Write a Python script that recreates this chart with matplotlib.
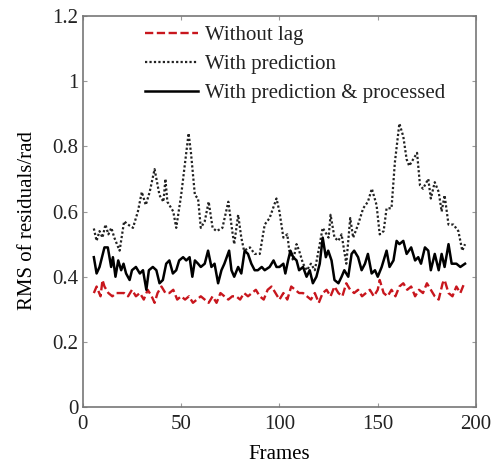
import matplotlib
matplotlib.use("Agg")
import matplotlib.pyplot as plt

# frame positions and values
pred_x = [5.6, 7, 8.5, 10, 11.5, 13, 14.5, 16, 18.7, 21, 23, 25.5, 28, 30, 32, 34, 36.5, 39, 41,
          42, 43, 46, 47.5, 50, 52.6, 53.8, 55, 57, 58.6, 60, 62, 64, 66, 68, 71, 74, 76, 77, 79,
          80.6, 82, 85, 87.4, 90, 92.5, 95, 98.5, 100, 102, 104, 105, 107, 108.7, 110, 112, 114,
          116, 118, 120.5, 122, 125, 126, 128, 130, 131.6, 134, 136, 137.5, 140, 142.6, 145, 147,
          149.4, 151, 153, 154.5, 157, 158.7, 161, 163, 164.7, 166, 168, 170, 171.5, 173, 175.7,
          177, 179, 181, 182.5, 184, 186, 188.5, 191, 193, 194.4]
pred_y = [0.548, 0.51, 0.54, 0.52, 0.56, 0.53, 0.55, 0.52, 0.48, 0.57, 0.56, 0.55, 0.60, 0.66,
          0.62, 0.66, 0.73, 0.65, 0.63, 0.70, 0.63, 0.60, 0.55, 0.65, 0.78, 0.84, 0.78, 0.65, 0.64,
          0.55, 0.57, 0.63, 0.55, 0.54, 0.55, 0.63, 0.54, 0.50, 0.59, 0.52, 0.48, 0.49, 0.47, 0.47,
          0.56, 0.58, 0.64, 0.60, 0.52, 0.53, 0.48, 0.45, 0.50, 0.48, 0.44, 0.42, 0.44, 0.42, 0.50,
          0.55, 0.52, 0.59, 0.52, 0.51, 0.53, 0.44, 0.58, 0.52, 0.56, 0.61, 0.63, 0.67, 0.62, 0.53,
          0.54, 0.61, 0.61, 0.75, 0.87, 0.83, 0.76, 0.74, 0.76, 0.78, 0.68, 0.67, 0.70, 0.64, 0.69,
          0.66, 0.60, 0.65, 0.56, 0.56, 0.54, 0.48, 0.50]

proc_x = [5.6, 7, 8.5, 11, 12.7, 14.4, 15.3, 16.6, 18, 19.5, 20.7, 22, 23.8, 25, 27, 29, 30.6,
          32.3, 33.6, 35.6, 37.4, 39, 40.7, 42.4, 44, 45.8, 47.5, 49, 51, 52.6, 54.3, 55.7, 57,
          58.6, 60, 62, 63.7, 65.4, 67, 68.8, 70.5, 72, 74.4, 75.6, 77, 79, 80.6, 82.3, 84, 85.7,
          87.4, 89, 91, 92.5, 95, 97, 98.5, 100, 102, 103, 104.4, 105.6, 107, 108.7, 110, 112,
          113.8, 115.4, 117, 118.8, 120.5, 122, 123.6, 124.8, 126.5, 128, 130, 131.6, 133, 135,
          136.7, 138, 140, 141.8, 143.5, 145, 146.9, 148.6, 150, 152, 154.5, 156, 158, 159.6, 161,
          163, 164.7, 167, 169, 170.6, 172, 174, 175.7, 177, 179, 181, 182.5, 184, 186, 187.6,
          190, 192, 194.4]
proc_y = [0.46, 0.41, 0.43, 0.49, 0.49, 0.43, 0.46, 0.40, 0.45, 0.42, 0.44, 0.41, 0.39, 0.42,
          0.43, 0.41, 0.42, 0.36, 0.42, 0.43, 0.42, 0.38, 0.39, 0.44, 0.45, 0.41, 0.42, 0.45, 0.46,
          0.45, 0.46, 0.40, 0.45, 0.44, 0.43, 0.44, 0.48, 0.43, 0.44, 0.38, 0.42, 0.44, 0.48, 0.42,
          0.40, 0.43, 0.41, 0.48, 0.47, 0.44, 0.42, 0.42, 0.43, 0.42, 0.43, 0.45, 0.43, 0.43, 0.44,
          0.41, 0.45, 0.48, 0.46, 0.45, 0.42, 0.43, 0.40, 0.42, 0.38, 0.40, 0.44, 0.52, 0.46, 0.48,
          0.45, 0.39, 0.38, 0.40, 0.42, 0.40, 0.47, 0.48, 0.46, 0.42, 0.44, 0.47, 0.41, 0.42, 0.40,
          0.43, 0.48, 0.43, 0.45, 0.51, 0.50, 0.51, 0.47, 0.49, 0.45, 0.46, 0.44, 0.49, 0.48, 0.42,
          0.47, 0.42, 0.47, 0.43, 0.50, 0.44, 0.44, 0.43, 0.44]

nolag_x = [5.6, 7, 9, 10, 11, 13, 15, 17, 19, 21, 23, 25, 27, 29, 31, 33, 35, 36.5, 38, 40, 42,
           44, 46, 48, 50, 52, 54, 56, 58, 60, 62, 64, 66, 68, 70, 72, 74, 76, 78, 80, 82, 84, 86,
           88, 90, 92, 94, 96, 98, 100, 102, 104, 106, 108, 110, 112, 114, 116, 118, 120, 122,
           124, 126, 128, 130, 132, 134, 136, 138, 140, 142, 144, 146, 148, 150, 151, 153, 155,
           157, 159, 161, 163, 165, 167, 169, 171, 173, 175, 177, 179, 181, 183, 184, 186, 188,
           190, 192, 194]
nolag_y = [0.35, 0.37, 0.34, 0.39, 0.37, 0.35, 0.34, 0.35, 0.35, 0.35, 0.34, 0.36, 0.34, 0.35,
           0.33, 0.36, 0.34, 0.32, 0.35, 0.37, 0.35, 0.35, 0.36, 0.33, 0.34, 0.33, 0.34, 0.32, 0.33,
           0.34, 0.33, 0.32, 0.34, 0.32, 0.35, 0.34, 0.33, 0.34, 0.34, 0.33, 0.35, 0.34, 0.35, 0.36,
           0.34, 0.33, 0.36, 0.37, 0.35, 0.33, 0.35, 0.33, 0.37, 0.36, 0.35, 0.35, 0.34, 0.33, 0.35,
           0.32, 0.35, 0.36, 0.34, 0.37, 0.35, 0.34, 0.38, 0.36, 0.35, 0.36, 0.34, 0.35, 0.36, 0.34,
           0.36, 0.39, 0.35, 0.34, 0.36, 0.34, 0.37, 0.38, 0.36, 0.37, 0.34, 0.36, 0.35, 0.38, 0.36,
           0.34, 0.33, 0.38, 0.39, 0.35, 0.34, 0.37, 0.35, 0.38]

x_ticks = [0, 50, 100, 150, 200]
y_ticks = [0, 0.2, 0.4, 0.6, 0.8, 1.0, 1.2]

plt.rcParams["font.family"] = ["Liberation Serif", "DejaVu Serif"]
plt.rcParams["text.color"] = "#222222"
plt.rcParams["xtick.labelcolor"] = "#222222"
plt.rcParams["ytick.labelcolor"] = "#222222"

fig = plt.figure(figsize=(4.99, 4.68), dpi=100)
ax = fig.add_axes([0.166, 0.130, 0.788, 0.836])

ax.plot(nolag_x, nolag_y, color="#c8161d", lw=1.7, ls=(0, (3.5, 1.5)), label="Without lag")
ax.plot(pred_x, pred_y, color="#222222", lw=1.6, ls=(0, (1, 1)), label="With prediction")
ax.plot(proc_x, proc_y, color="black", lw=1.8, label="With prediction & processed")

ax.set_xlim(0, 200)
ax.set_ylim(0, 1.2)
ax.set_xticks(x_ticks)
ax.set_yticks(y_ticks)
ax.set_yticklabels([f"{v:g}" for v in y_ticks])
ax.tick_params(direction="in", labelsize=15, top=True, right=True, length=3,
               color="#999999")
ax.tick_params(axis="x", pad=6)
ax.tick_params(axis="y", pad=3)
for s in ax.spines.values():
    s.set_color("#777777")
    s.set_linewidth(1.2)

ax.set_xlabel("Frames", fontsize=15)
ax.set_ylabel("RMS of residuals/rad", fontsize=15)
ax.xaxis.set_label_coords(0.5, -0.097)
ax.yaxis.set_label_coords(-0.117, 0.478)

ax.legend(loc="upper left", bbox_to_anchor=(0.158, 0.975), frameon=False, fontsize=15,
          handlelength=2.55, handletextpad=0.35, labelspacing=0.45, borderpad=0,
          borderaxespad=0)

fig.savefig("out.png", dpi=100)
